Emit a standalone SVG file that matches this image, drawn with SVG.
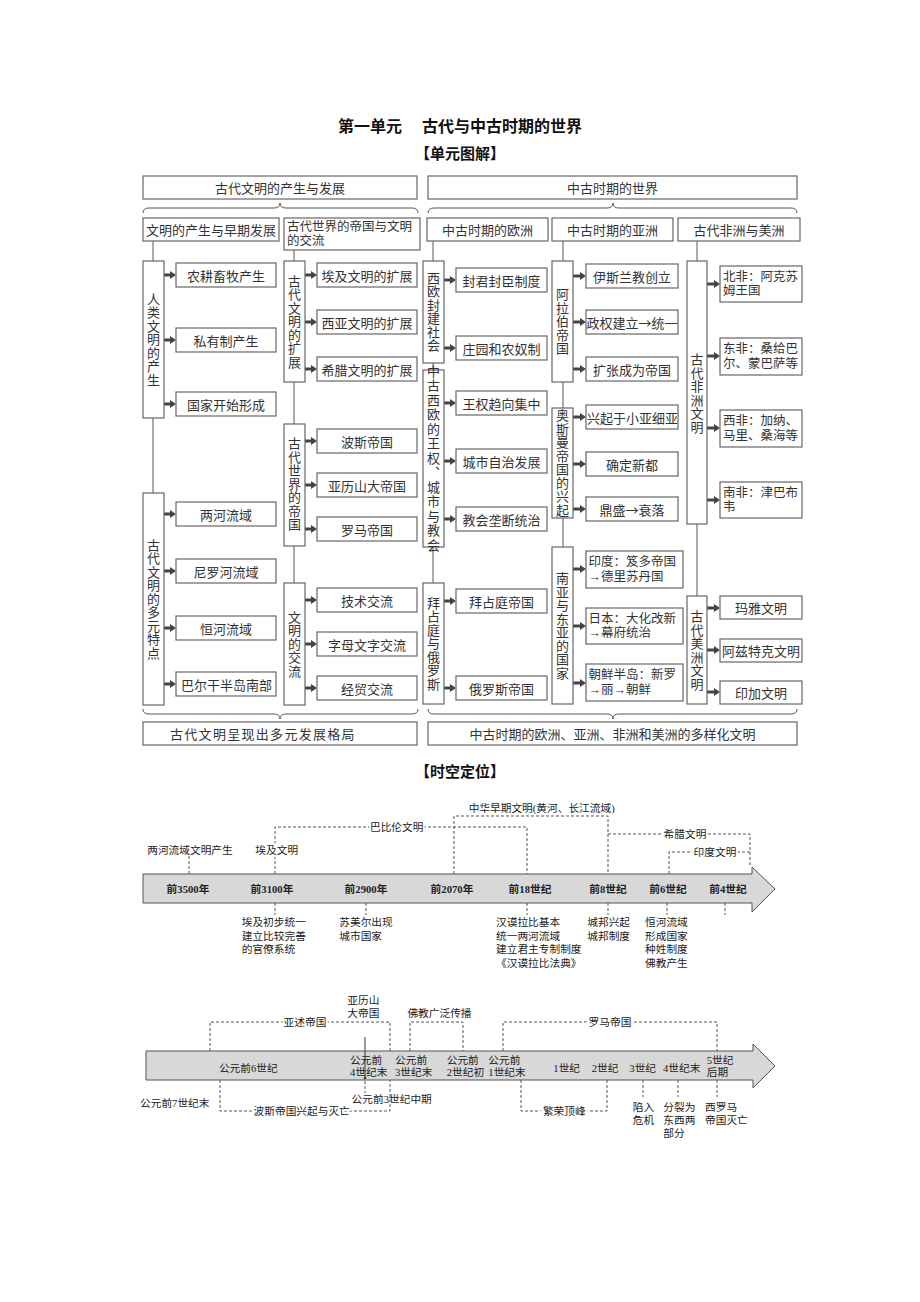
<svg xmlns="http://www.w3.org/2000/svg" width="920" height="1302" viewBox="0 0 920 1302">
<defs>
<style>
.bx{fill:#fff;stroke:#666;stroke-width:1.2}
.t{font-family:"Noto Sans CJK SC",sans-serif;font-size:13px;fill:#333;dominant-baseline:central}
.t2{font-family:"Liberation Sans","Noto Sans CJK SC",sans-serif;font-size:12.5px}
.c{text-anchor:middle}
.v{writing-mode:vertical-rl;text-anchor:middle;letter-spacing:0.5px}
.ln{stroke:#555;stroke-width:1;fill:none}
.ar{stroke:#444;stroke-width:3;marker-end:url(#ah)}
.ds{stroke:#555;stroke-width:1;stroke-dasharray:3 2;fill:none}
.tl{font-family:"Liberation Serif","Noto Sans CJK SC",serif;font-size:10.7px;fill:#222;dominant-baseline:central}
.b{font-weight:700}
.h{stroke:#fff;stroke-width:4;paint-order:stroke}
.band{fill:#d8d8d8;stroke:#555;stroke-width:1}
.ttl{font-family:"Noto Sans CJK SC",sans-serif;font-weight:700;fill:#111;dominant-baseline:central}
</style>
<marker id="ah" viewBox="0 0 6 8" refX="2" refY="4" markerWidth="6" markerHeight="8" markerUnits="userSpaceOnUse" orient="auto"><path d="M0,0 L6,4 L0,8 z" fill="#444"/></marker>
</defs>
<rect width="920" height="1302" fill="#fff"/>

<g id="titles">
<text class="ttl" x="338" y="125" font-size="16">第一单元</text>
<text class="ttl" x="422" y="125" font-size="16">古代与中古时期的世界</text>
<text class="ttl" x="460" y="152" font-size="15" text-anchor="middle">【单元图解】</text>
<text class="ttl" x="460" y="770" font-size="15" text-anchor="middle">【时空定位】</text>
</g>

<g id="connectors">
<path class="ln" d="M143,213 Q143,208 149,208 H274 Q280,208 280,203 Q280,208 286,208 H412 Q418,208 418,213"/>
<path class="ln" d="M428,213 Q428,208 434,208 H607 Q613,208 613,203 Q613,208 619,208 H791 Q797,208 797,213"/>
<path class="ln" d="M143,709 Q143,714 149,714 H274 Q280,714 280,719 Q280,714 286,714 H412 Q418,714 418,709"/>
<path class="ln" d="M428,709 Q428,714 434,714 H607 Q613,714 613,719 Q613,714 619,714 H791 Q797,714 797,709"/>
<path class="ln" d="M153,241V261M153,418V493M294,250V261M294,382V424M294,546V583M433,241V261M433,363V370M433,547V583M563,241V261M563,382V408M563,518V547M697,241V261M697,524V596"/>
<line class="ar" x1="164" y1="275" x2="172" y2="275"/>
<line class="ar" x1="164" y1="340" x2="172" y2="340"/>
<line class="ar" x1="164" y1="404" x2="172" y2="404"/>
<line class="ar" x1="164" y1="514" x2="172" y2="514"/>
<line class="ar" x1="164" y1="571" x2="172" y2="571"/>
<line class="ar" x1="164" y1="628" x2="172" y2="628"/>
<line class="ar" x1="164" y1="684" x2="172" y2="684"/>
<line class="ar" x1="305" y1="275" x2="313" y2="275"/>
<line class="ar" x1="305" y1="322" x2="313" y2="322"/>
<line class="ar" x1="305" y1="369" x2="313" y2="369"/>
<line class="ar" x1="305" y1="441" x2="313" y2="441"/>
<line class="ar" x1="305" y1="485" x2="313" y2="485"/>
<line class="ar" x1="305" y1="529" x2="313" y2="529"/>
<line class="ar" x1="305" y1="600" x2="313" y2="600"/>
<line class="ar" x1="305" y1="644" x2="313" y2="644"/>
<line class="ar" x1="305" y1="688" x2="313" y2="688"/>
<line class="ar" x1="444" y1="280" x2="452" y2="280"/>
<line class="ar" x1="444" y1="348" x2="452" y2="348"/>
<line class="ar" x1="444" y1="403" x2="452" y2="403"/>
<line class="ar" x1="444" y1="461" x2="452" y2="461"/>
<line class="ar" x1="444" y1="519" x2="452" y2="519"/>
<line class="ar" x1="444" y1="601" x2="452" y2="601"/>
<line class="ar" x1="444" y1="688" x2="452" y2="688"/>
<line class="ar" x1="573" y1="276" x2="582" y2="276"/>
<line class="ar" x1="573" y1="322" x2="582" y2="322"/>
<line class="ar" x1="573" y1="369" x2="582" y2="369"/>
<line class="ar" x1="573" y1="417" x2="582" y2="417"/>
<line class="ar" x1="573" y1="464" x2="582" y2="464"/>
<line class="ar" x1="573" y1="509" x2="582" y2="509"/>
<line class="ar" x1="573" y1="569" x2="582" y2="569"/>
<line class="ar" x1="573" y1="626" x2="582" y2="626"/>
<line class="ar" x1="573" y1="683" x2="582" y2="683"/>
<line class="ar" x1="707" y1="284" x2="716" y2="284"/>
<line class="ar" x1="707" y1="356" x2="716" y2="356"/>
<line class="ar" x1="707" y1="428" x2="716" y2="428"/>
<line class="ar" x1="707" y1="500" x2="716" y2="500"/>
<line class="ar" x1="707" y1="608" x2="716" y2="608"/>
<line class="ar" x1="707" y1="650" x2="716" y2="650"/>
<line class="ar" x1="707" y1="692" x2="716" y2="692"/>
</g>

<g id="n-top-left"><rect class="bx" x="143" y="176" width="274" height="23"/><text class="t c" x="280" y="187.5">古代文明的产生与发展</text></g>
<g id="n-top-right"><rect class="bx" x="428" y="176" width="369" height="23"/><text class="t c" x="612.5" y="187.5">中古时期的世界</text></g>

<g id="n-a1"><rect class="bx" x="143" y="218" width="136" height="23"/><text class="t c" x="211" y="229.5">文明的产生与早期发展</text></g>
<g id="n-a2"><rect class="bx" x="284" y="218" width="136" height="32"/><text class="t t2" x="287" y="226.75">古代世界的帝国与文明<tspan x="287" dy="14.5">的交流</tspan></text></g>
<g id="n-b1"><rect class="bx" x="427" y="218" width="121" height="23"/><text class="t c" x="487.5" y="229.5">中古时期的欧洲</text></g>
<g id="n-b2"><rect class="bx" x="552" y="218" width="121" height="23"/><text class="t c" x="612.5" y="229.5">中古时期的亚洲</text></g>
<g id="n-b3"><rect class="bx" x="678" y="218" width="122" height="23"/><text class="t c" x="739" y="229.5">古代非洲与美洲</text></g>

<g id="v-renlei"><rect class="bx" x="143" y="261" width="21" height="157"/><text class="t v" x="153.5" y="339.5">人类文明的产生</text></g>
<g id="v-duoyuan"><rect class="bx" x="143" y="493" width="21" height="212"/><text class="t v" x="153.5" y="599">古代文明的多元特点</text></g>
<g id="v-kuozhan"><rect class="bx" x="284" y="261" width="21" height="121"/><text class="t v" x="294.5" y="321.5">古代文明的扩展</text></g>
<g id="v-diguo"><rect class="bx" x="284" y="424" width="21" height="122"/><text class="t v" x="294.5" y="484">古代世界的帝国</text></g>
<g id="v-jiaoliu"><rect class="bx" x="284" y="583" width="21" height="122"/><text class="t v" x="294.5" y="644">文明的交流</text></g>
<g id="v-xiou"><rect class="bx" x="423" y="261" width="21" height="102"/><text class="t v" x="433.5" y="312">西欧封建社会</text></g>
<g id="v-wangquan"><rect class="bx" x="423" y="370" width="21" height="177"/><text class="t v" x="433.5" y="458.5" style="letter-spacing:1.5px">中古西欧的王权、城市与教会</text></g>
<g id="v-baizhan"><rect class="bx" x="423" y="583" width="21" height="121"/><text class="t v" x="433.5" y="643.5">拜占庭与俄罗斯</text></g>
<g id="v-alabo"><rect class="bx" x="552" y="261" width="21" height="121"/><text class="t v" x="562.5" y="321.5">阿拉伯帝国</text></g>
<g id="v-aosiman"><rect class="bx" x="552" y="408" width="21" height="110"/><text class="t v" x="562.5" y="463">奥斯曼帝国的兴起</text></g>
<g id="v-nanya"><rect class="bx" x="552" y="547" width="21" height="157"/><text class="t v" x="562.5" y="626">南亚与东亚的国家</text></g>
<g id="v-feizhou"><rect class="bx" x="687" y="261" width="20" height="263"/><text class="t v" x="697" y="393.5">古代非洲文明</text></g>
<g id="v-meizhou"><rect class="bx" x="687" y="596" width="20" height="108"/><text class="t v" x="697" y="650.5">古代美洲文明</text></g>

<g id="n-c1"><rect class="bx" x="176" y="263" width="100" height="24"/><text class="t c" x="226" y="275">农耕畜牧产生</text></g>
<g id="n-c2"><rect class="bx" x="176" y="328" width="100" height="24"/><text class="t c" x="226" y="340">私有制产生</text></g>
<g id="n-c3"><rect class="bx" x="176" y="392" width="100" height="24"/><text class="t c" x="226" y="404">国家开始形成</text></g>
<g id="n-c4"><rect class="bx" x="176" y="502" width="100" height="24"/><text class="t c" x="226" y="514">两河流域</text></g>
<g id="n-c5"><rect class="bx" x="176" y="559" width="100" height="24"/><text class="t c" x="226" y="571">尼罗河流域</text></g>
<g id="n-c6"><rect class="bx" x="176" y="616" width="100" height="24"/><text class="t c" x="226" y="628">恒河流域</text></g>
<g id="n-c7"><rect class="bx" x="176" y="672" width="100" height="24"/><text class="t c" x="226.5" y="684">巴尔干半岛南部</text></g>

<g id="n-d1"><rect class="bx" x="317" y="263" width="100" height="24"/><text class="t c" x="367" y="275">埃及文明的扩展</text></g>
<g id="n-d2"><rect class="bx" x="317" y="310" width="100" height="24"/><text class="t c" x="367" y="322">西亚文明的扩展</text></g>
<g id="n-d3"><rect class="bx" x="317" y="357" width="100" height="24"/><text class="t c" x="367" y="369">希腊文明的扩展</text></g>
<g id="n-d4"><rect class="bx" x="317" y="429" width="100" height="24"/><text class="t c" x="367" y="441">波斯帝国</text></g>
<g id="n-d5"><rect class="bx" x="317" y="473" width="100" height="24"/><text class="t c" x="367" y="485">亚历山大帝国</text></g>
<g id="n-d6"><rect class="bx" x="317" y="517" width="100" height="24"/><text class="t c" x="367" y="529">罗马帝国</text></g>
<g id="n-d7"><rect class="bx" x="317" y="588" width="100" height="24"/><text class="t c" x="367" y="600">技术交流</text></g>
<g id="n-d8"><rect class="bx" x="317" y="632" width="100" height="24"/><text class="t c" x="367" y="644">字母文字交流</text></g>
<g id="n-d9"><rect class="bx" x="317" y="676" width="100" height="24"/><text class="t c" x="367" y="688">经贸交流</text></g>

<g id="n-e1"><rect class="bx" x="456" y="268" width="91" height="24"/><text class="t c" x="501.5" y="280">封君封臣制度</text></g>
<g id="n-e2"><rect class="bx" x="456" y="336" width="91" height="24"/><text class="t c" x="501.5" y="348">庄园和农奴制</text></g>
<g id="n-e3"><rect class="bx" x="456" y="391" width="91" height="24"/><text class="t c" x="501.5" y="403">王权趋向集中</text></g>
<g id="n-e4"><rect class="bx" x="456" y="449" width="91" height="24"/><text class="t c" x="501.5" y="461">城市自治发展</text></g>
<g id="n-e5"><rect class="bx" x="456" y="507" width="91" height="24"/><text class="t c" x="501.5" y="519">教会垄断统治</text></g>
<g id="n-e6"><rect class="bx" x="456" y="589" width="91" height="24"/><text class="t c" x="501.5" y="601">拜占庭帝国</text></g>
<g id="n-e7"><rect class="bx" x="456" y="676" width="91" height="24"/><text class="t c" x="501.5" y="688">俄罗斯帝国</text></g>

<g id="n-f1"><rect class="bx" x="586" y="264" width="92" height="24"/><text class="t c" x="632" y="276">伊斯兰教创立</text></g>
<g id="n-f2"><rect class="bx" x="586" y="310" width="92" height="24"/><text class="t c" x="632" y="322">政权建立→统一</text></g>
<g id="n-f3"><rect class="bx" x="586" y="357" width="92" height="24"/><text class="t c" x="632" y="369">扩张成为帝国</text></g>
<g id="n-f4"><rect class="bx" x="586" y="405" width="92" height="24"/><text class="t c" x="632.5" y="417">兴起于小亚细亚</text></g>
<g id="n-f5"><rect class="bx" x="586" y="452" width="92" height="24"/><text class="t c" x="632" y="464">确定新都</text></g>
<g id="n-f6"><rect class="bx" x="586" y="497" width="92" height="24"/><text class="t c" x="632" y="509">鼎盛→衰落</text></g>
<g id="n-f7"><rect class="bx" x="586" y="551" width="97" height="37"/><text class="t t2" x="588.5" y="562.25">印度：笈多帝国<tspan x="588.5" dy="14.5">→德里苏丹国</tspan></text></g>
<g id="n-f8"><rect class="bx" x="586" y="608" width="97" height="36"/><text class="t t2" x="588.5" y="618.75">日本：大化改新<tspan x="588.5" dy="14.5">→幕府统治</tspan></text></g>
<g id="n-f9"><rect class="bx" x="586" y="664" width="97" height="37"/><text class="t t2" x="588.5" y="675.25">朝鲜半岛：新罗<tspan x="588.5" dy="14.5">→丽→朝鲜</tspan></text></g>

<g id="n-g1"><rect class="bx" x="720" y="266" width="82" height="36"/><text class="t t2" x="723" y="276.75">北非：阿克苏<tspan x="723" dy="14.5">姆王国</tspan></text></g>
<g id="n-g2"><rect class="bx" x="720" y="338" width="82" height="37"/><text class="t t2" x="723" y="349.25">东非：桑给巴<tspan x="723" dy="14.5">尔、蒙巴萨等</tspan></text></g>
<g id="n-g3"><rect class="bx" x="720" y="410" width="82" height="37"/><text class="t t2" x="723" y="421.25">西非：加纳、<tspan x="723" dy="14.5">马里、桑海等</tspan></text></g>
<g id="n-g4"><rect class="bx" x="720" y="482" width="82" height="36"/><text class="t t2" x="723" y="492.75">南非：津巴布<tspan x="723" dy="14.5">韦</tspan></text></g>
<g id="n-g5"><rect class="bx" x="720" y="596" width="82" height="23"/><text class="t c" x="761" y="607.5">玛雅文明</text></g>
<g id="n-g6"><rect class="bx" x="720" y="639" width="82" height="23"/><text class="t c" x="761" y="650.5">阿兹特克文明</text></g>
<g id="n-g7"><rect class="bx" x="720" y="681" width="82" height="23"/><text class="t c" x="761" y="692.5">印加文明</text></g>

<g id="n-bottom-left"><rect class="bx" x="143" y="722" width="274" height="23"/><text class="t" x="170" y="733.5" style="letter-spacing:1.3px">古代文明呈现出多元发展格局</text></g>
<g id="n-bottom-right"><rect class="bx" x="428" y="722" width="369" height="23"/><text class="t c" x="612.5" y="733.5">中古时期的欧洲、亚洲、非洲和美洲的多样化文明</text></g>

<g id="timeline1">
<path class="band" d="M143,874 H752 V867 L775,889 L752,912 V903 H143 Z"/>
<path class="ds" d="M189,856V874M275,874V827H527V874M454,874V816H608V874M608,834H750V867M669,874V852H750"/>
<path class="ds" d="M275,903V915M366,903V915M527,903V915M608,903V915M667,903V915M725,903V915"/>
<text class="tl c" x="190" y="850">两河流域文明产生</text>
<text class="tl c h" x="276.7" y="850">埃及文明</text>
<text class="tl c h" x="396.7" y="827">巴比伦文明</text>
<text class="tl c" x="541.7" y="808">中华早期文明(黄河、长江流域)</text>
<text class="tl c h" x="685" y="834">希腊文明</text>
<text class="tl c h" x="715" y="852">印度文明</text>
<text class="tl c b" x="188" y="889" font-size="11">前3500年</text>
<text class="tl c b" x="272" y="889" font-size="11">前3100年</text>
<text class="tl c b" x="366" y="889" font-size="11">前2900年</text>
<text class="tl c b" x="452" y="889" font-size="11">前2070年</text>
<text class="tl c b" x="530" y="889" font-size="11">前18世纪</text>
<text class="tl c b" x="608" y="889" font-size="11">前8世纪</text>
<text class="tl c b" x="668" y="889" font-size="11">前6世纪</text>
<text class="tl c b" x="728" y="889" font-size="11">前4世纪</text>
<text class="tl" x="241.7" y="922">埃及初步统一<tspan x="241.7" dy="13.5">建立比较完善</tspan><tspan x="241.7" dy="13.5">的官僚系统</tspan></text>
<text class="tl" x="339.3" y="922">苏美尔出现<tspan x="339.3" dy="13.5">城市国家</tspan></text>
<text class="tl" x="496" y="922">汉谟拉比基本<tspan x="496" dy="13.5">统一两河流域</tspan><tspan x="496" dy="13.5">建立君主专制制度</tspan><tspan x="496" dy="13.5">《汉谟拉比法典》</tspan></text>
<text class="tl" x="587.3" y="922">城邦兴起<tspan x="587.3" dy="13.5">城邦制度</tspan></text>
<text class="tl" x="645" y="922">恒河流域<tspan x="645" dy="13.5">形成国家</tspan><tspan x="645" dy="13.5">种姓制度</tspan><tspan x="645" dy="13.5">佛教产生</tspan></text>
</g>

<g id="timeline2">
<path class="band" d="M146,1051 H753 V1044 L775,1066 L753,1088 V1080 H146 Z"/>
<path class="ds" d="M210,1051V1022H390V1051M220,1080V1111H390V1080M410,1051V1022H463V1051M503,1051V1022H717V1051M521,1080V1111H607V1080M365,1081V1093M643,1080V1097M678,1080V1097M717,1080V1097"/>
<line x1="365" y1="1037" x2="365" y2="1078" stroke="#333" stroke-width="1"/>
<circle cx="365" cy="1078" r="1.3" fill="#333"/>
<text class="tl c" x="363.3" y="1000">亚历山<tspan x="363.3" dy="13.3">大帝国</tspan></text>
<text class="tl c h" x="305" y="1022">亚述帝国</text>
<text class="tl c" x="439.5" y="1012.7">佛教广泛传播</text>
<text class="tl c h" x="610" y="1022">罗马帝国</text>
<text class="tl c" x="248.3" y="1068">公元前6世纪</text>
<text class="tl" x="350" y="1060">公元前<tspan x="350" dy="12">4世纪末</tspan></text>
<text class="tl" x="395" y="1060">公元前<tspan x="395" dy="12">3世纪末</tspan></text>
<text class="tl" x="446.7" y="1060">公元前<tspan x="446.7" dy="12">2世纪初</tspan></text>
<text class="tl" x="488.3" y="1060">公元前<tspan x="488.3" dy="12">1世纪末</tspan></text>
<text class="tl c" x="566.7" y="1068">1世纪</text>
<text class="tl c" x="605" y="1068">2世纪</text>
<text class="tl c" x="642.7" y="1068">3世纪</text>
<text class="tl c" x="681.7" y="1068">4世纪末</text>
<text class="tl" x="706.7" y="1060">5世纪<tspan x="706.7" dy="12">后期</tspan></text>
<text class="tl" x="140" y="1103">公元前7世纪末</text>
<text class="tl c h" x="301.7" y="1111">波斯帝国兴起与灭亡</text>
<text class="tl c" x="391.7" y="1099.3">公元前3世纪中期</text>
<text class="tl c h" x="564.3" y="1111">繁荣顶峰</text>
<text class="tl" x="632.7" y="1107">陷入<tspan x="632.7" dy="13">危机</tspan></text>
<text class="tl" x="663.3" y="1107">分裂为<tspan x="663.3" dy="13">东西两</tspan><tspan x="663.3" dy="13">部分</tspan></text>
<text class="tl" x="705" y="1107">西罗马<tspan x="705" dy="13">帝国灭亡</tspan></text>
</g>
</svg>
